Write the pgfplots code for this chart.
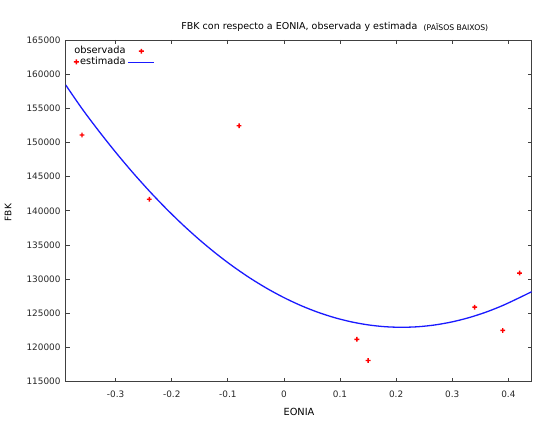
\documentclass[border=0pt]{standalone}
\usepackage{fontspec}
\setmainfont{DejaVu Sans}
\usepackage{pgfplots}
\pgfplotsset{compat=1.18}
\definecolor{obs}{HTML}{FF0000}
\definecolor{est}{HTML}{1A1AFF}
\definecolor{axisgray}{HTML}{404040}

% filled plus, like gnuplot's thick point type 1
\pgfdeclareplotmark{fplus}{%
  \pgfpathrectangle{\pgfpoint{-\pgfplotmarksize}{-0.3\pgfplotmarksize}}{\pgfpoint{2\pgfplotmarksize}{0.6\pgfplotmarksize}}%
  \pgfpathrectangle{\pgfpoint{-0.3\pgfplotmarksize}{-\pgfplotmarksize}}{\pgfpoint{0.6\pgfplotmarksize}{2\pgfplotmarksize}}%
  \pgfusepathqfill}

\begin{document}
\begin{tikzpicture}
\begin{axis}[
    at={(0,0)}, anchor=south west,
    scale only axis,
    width=466bp, height=341.7bp,
    xmin=-0.389, xmax=0.4416,
    ymin=115000, ymax=165000,
    scaled y ticks=false, scaled x ticks=false,
    xtick={-0.3,-0.2,-0.1,0,0.1,0.2,0.3,0.4},
    xticklabels={-0.3,-0.2,-0.1,0,0.1,0.2,0.3,0.4},
    ytick={115000,120000,125000,130000,135000,140000,145000,150000,155000,160000,165000},
    yticklabels={115000,120000,125000,130000,135000,140000,145000,150000,155000,160000,165000},
    tick align=inside,
    major tick length=4bp,
    tick style={axisgray, line width=0.8bp},
    axis line style={axisgray, line width=0.8bp},
    tick label style={font=\fontsize{8.9bp}{10bp}\selectfont, text=black!85},
    xticklabel style={anchor=center, inner sep=0pt, yshift=-12.3bp},
    yticklabel style={anchor=east, inner sep=0pt, xshift=-5bp},
    legend cell align=right,
    legend plot pos=right,
    legend image code/.code={
        \draw[mark repeat=2, mark phase=2, #1] plot coordinates {(0bp,0bp) (13bp,0bp) (26bp,0bp)};
    },
    legend style={draw=none, fill=none, at={(axis description cs:0,1)}, anchor=north east,
        xshift=89.5bp, yshift=-6.5bp, inner sep=0pt, row sep=2bp, column sep=2bp,
        font=\fontsize{9.8bp}{11bp}\selectfont,
        nodes={inner sep=0pt, text height=7bp, text depth=2bp}},
]
% observed values
\addplot[only marks, color=obs, mark=fplus, mark size=2.4bp,
    mark options={fill=obs, draw=none}] coordinates {
    (-0.37,161800) (-0.36,151100) (-0.24,141700) (-0.08,152450)
    (0.13,121200) (0.15,118100) (0.34,125900) (0.39,122500) (0.42,130900)
};
\addlegendentry{observada}
% estimated curve
\addplot[est, line width=1.3bp, smooth, no marks] coordinates {
    (-0.389,158420) (-0.36,154963) (-0.33,151683) (-0.30,148580) (-0.27,145654)
    (-0.24,142906) (-0.21,140335) (-0.18,137942) (-0.15,135726) (-0.12,133687)
    (-0.09,131825) (-0.06,130141) (-0.03,128634) (0.00,127304) (0.03,126151)
    (0.06,125176) (0.09,124378) (0.12,123758) (0.15,123315) (0.18,123049)
    (0.21,122960) (0.24,123049) (0.27,123315) (0.30,123758) (0.33,124378)
    (0.36,125176) (0.39,126151) (0.42,127304) (0.4416,128171)
};
\addlegendentry{estimada}
\end{axis}
% titles and axis labels
\node[font=\fontsize{9.5bp}{11bp}\selectfont] at (233.7bp,355.2bp) {FBK con respecto a EONIA, observada y estimada};
\node[anchor=west, inner sep=0pt, font=\fontsize{7.7bp}{9bp}\selectfont] at (357.8bp,354.7bp) {(PAÏSOS BAIXOS)};
\node[font=\fontsize{9.8bp}{11bp}\selectfont] at (233.3bp,-30bp) {EONIA};
\node[rotate=90, font=\fontsize{9bp}{10bp}\selectfont] at (-57.7bp,169bp) {FBK};
\pgfresetboundingbox
\path[use as bounding box] (-65.7bp,-46.3bp) rectangle (474.3bp,381.7bp);
\end{tikzpicture}
\end{document}
